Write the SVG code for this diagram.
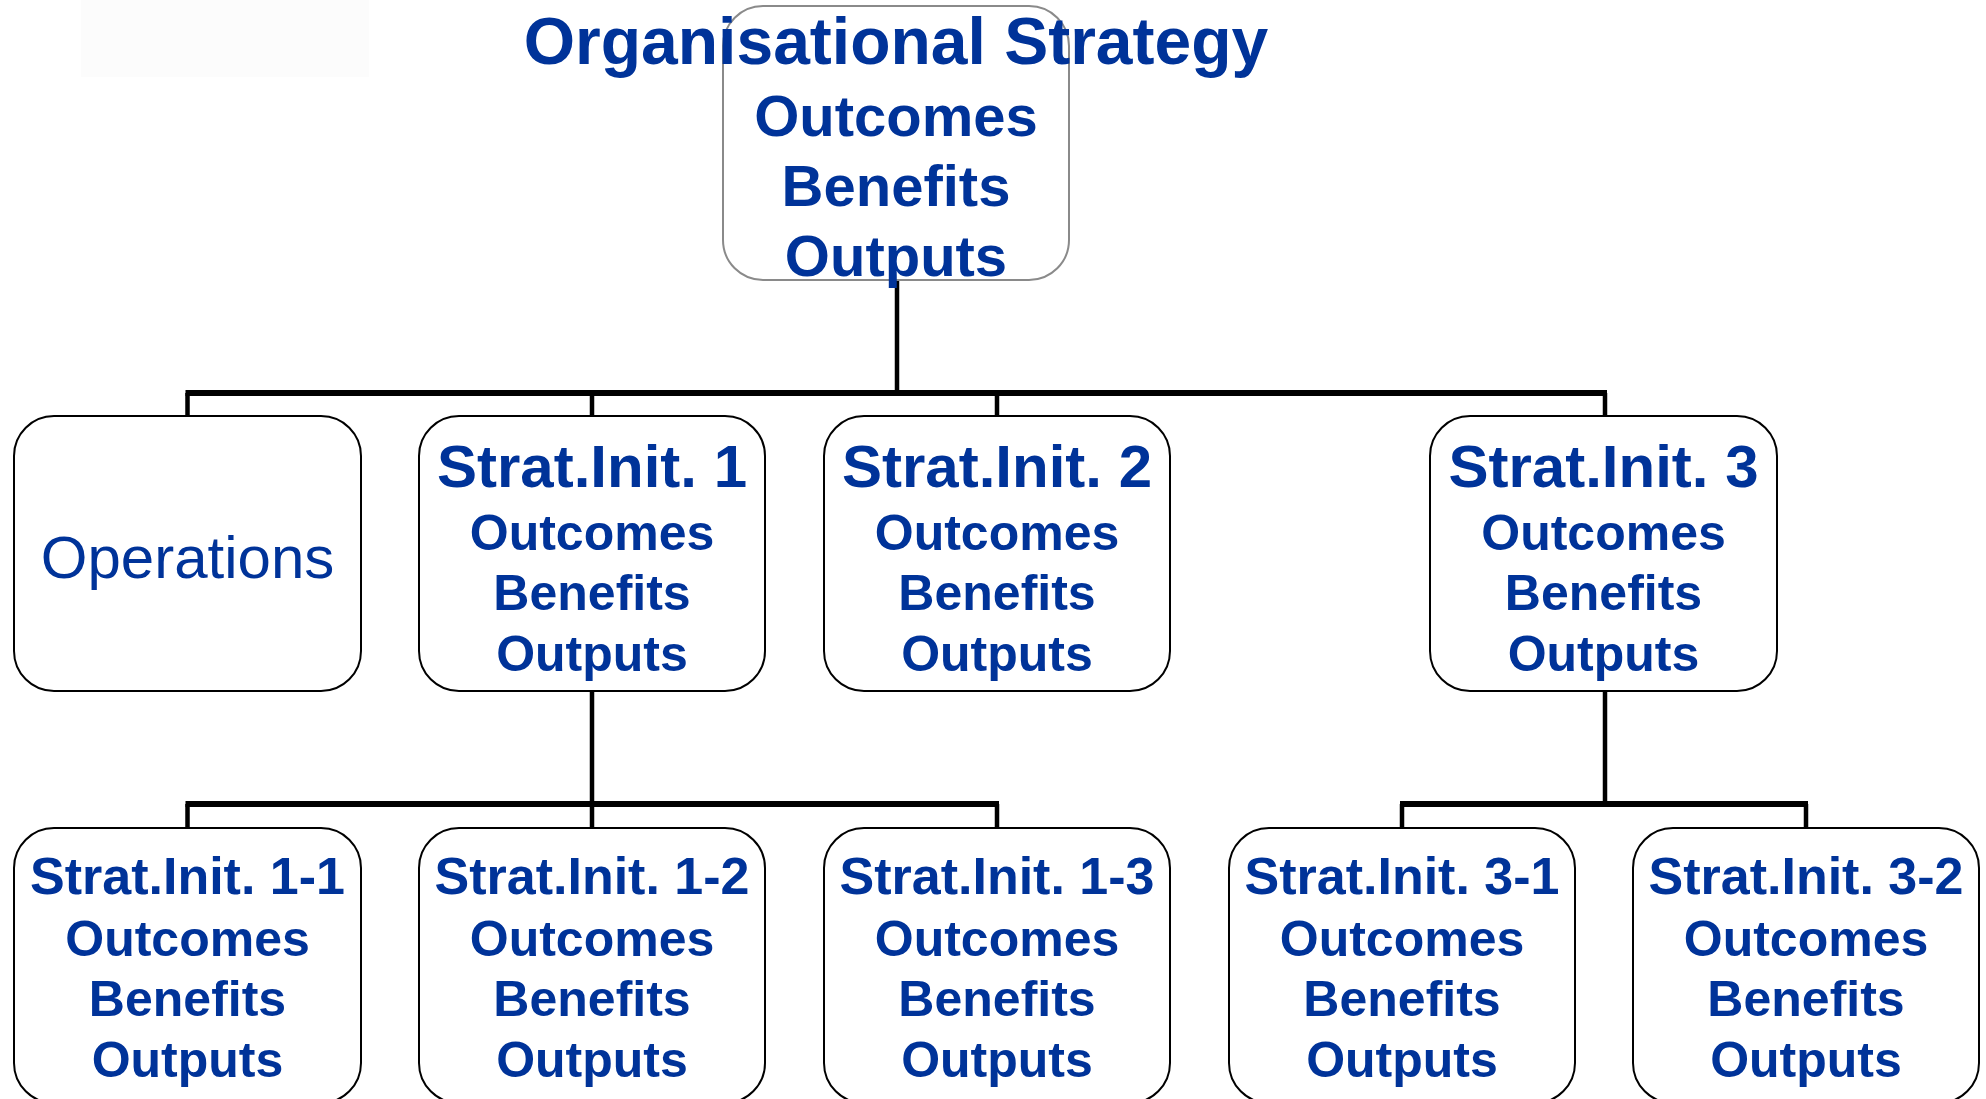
<svg xmlns="http://www.w3.org/2000/svg" width="1986" height="1099" viewBox="0 0 1986 1099">
<style>
.box{fill:#ffffff;stroke:#000000;stroke-width:2}
.top{fill:#ffffff;stroke:#8a8a8a;stroke-width:2}
.t{font-family:"Liberation Sans",Arial,sans-serif;font-weight:bold;fill:#003399;text-anchor:middle}
.op{font-family:"Liberation Sans",Arial,sans-serif;fill:#003399;text-anchor:middle}
.h{stroke:#000;stroke-width:6;fill:none}
.v{stroke:#000;stroke-width:4.5;fill:none}
</style>
<rect x="0" y="0" width="1986" height="1099" fill="#ffffff"/>
<rect x="81" y="0" width="288" height="77" fill="#fcfcfc"/>
<g id="connectors">
<path class="v" d="M897 281V393"/>
<path class="h" d="M185.5 393H1607"/>
<path class="v" d="M187.5 393V416M592 393V416M997 393V416M1605 393V416"/>
<path class="v" d="M592 691V804"/>
<path class="h" d="M185.5 804H999"/>
<path class="v" d="M187.5 804V828M592 804V828M997 804V828"/>
<path class="v" d="M1605 691V804"/>
<path class="h" d="M1400 804H1808"/>
<path class="v" d="M1402 804V828M1806 804V828"/>
</g>
<g id="org-strategy">
<rect class="top" x="723" y="6" width="346" height="274" rx="40"/>
<text class="t" x="896" y="64" font-size="66">Organisational Strategy</text>
<text class="t" x="896" y="136" font-size="58">Outcomes</text>
<text class="t" x="896" y="206" font-size="58">Benefits</text>
<text class="t" x="896" y="276" font-size="58">Outputs</text>
</g>
<g id="operations">
<rect class="box" x="14" y="416" width="347" height="275" rx="40"/>
<text class="op" x="187.5" y="578" font-size="60">Operations</text>
</g>
<g id="si1">
<rect class="box" x="419" y="416" width="346" height="275" rx="40"/>
<text class="t" x="592" y="487" font-size="60">Strat.Init. 1</text>
<text class="t" x="592" y="550" font-size="50">Outcomes</text>
<text class="t" x="592" y="610" font-size="50">Benefits</text>
<text class="t" x="592" y="671" font-size="50">Outputs</text>
</g>
<g id="si2">
<rect class="box" x="824" y="416" width="346" height="275" rx="40"/>
<text class="t" x="997" y="487" font-size="60">Strat.Init. 2</text>
<text class="t" x="997" y="550" font-size="50">Outcomes</text>
<text class="t" x="997" y="610" font-size="50">Benefits</text>
<text class="t" x="997" y="671" font-size="50">Outputs</text>
</g>
<g id="si3">
<rect class="box" x="1430" y="416" width="347" height="275" rx="40"/>
<text class="t" x="1603.5" y="487" font-size="60">Strat.Init. 3</text>
<text class="t" x="1603.5" y="550" font-size="50">Outcomes</text>
<text class="t" x="1603.5" y="610" font-size="50">Benefits</text>
<text class="t" x="1603.5" y="671" font-size="50">Outputs</text>
</g>
<g id="si1-1">
<rect class="box" x="14" y="828" width="347" height="275" rx="40"/>
<text class="t" x="187.5" y="894" font-size="52">Strat.Init. 1-1</text>
<text class="t" x="187.5" y="956" font-size="50">Outcomes</text>
<text class="t" x="187.5" y="1016" font-size="50">Benefits</text>
<text class="t" x="187.5" y="1077" font-size="50">Outputs</text>
</g>
<g id="si1-2">
<rect class="box" x="419" y="828" width="346" height="275" rx="40"/>
<text class="t" x="592" y="894" font-size="52">Strat.Init. 1-2</text>
<text class="t" x="592" y="956" font-size="50">Outcomes</text>
<text class="t" x="592" y="1016" font-size="50">Benefits</text>
<text class="t" x="592" y="1077" font-size="50">Outputs</text>
</g>
<g id="si1-3">
<rect class="box" x="824" y="828" width="346" height="275" rx="40"/>
<text class="t" x="997" y="894" font-size="52">Strat.Init. 1-3</text>
<text class="t" x="997" y="956" font-size="50">Outcomes</text>
<text class="t" x="997" y="1016" font-size="50">Benefits</text>
<text class="t" x="997" y="1077" font-size="50">Outputs</text>
</g>
<g id="si3-1">
<rect class="box" x="1229" y="828" width="346" height="275" rx="40"/>
<text class="t" x="1402" y="894" font-size="52">Strat.Init. 3-1</text>
<text class="t" x="1402" y="956" font-size="50">Outcomes</text>
<text class="t" x="1402" y="1016" font-size="50">Benefits</text>
<text class="t" x="1402" y="1077" font-size="50">Outputs</text>
</g>
<g id="si3-2">
<rect class="box" x="1633" y="828" width="346" height="275" rx="40"/>
<text class="t" x="1806" y="894" font-size="52">Strat.Init. 3-2</text>
<text class="t" x="1806" y="956" font-size="50">Outcomes</text>
<text class="t" x="1806" y="1016" font-size="50">Benefits</text>
<text class="t" x="1806" y="1077" font-size="50">Outputs</text>
</g>
</svg>
